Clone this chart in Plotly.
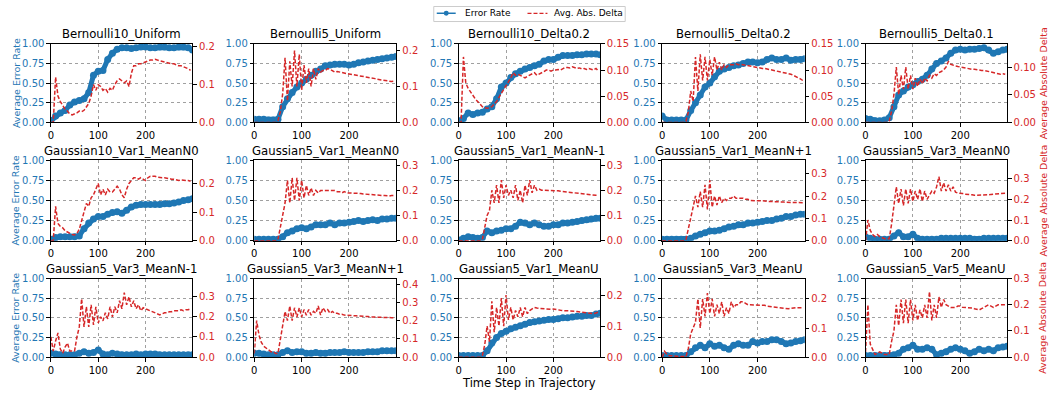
import plotly.graph_objects as go

W, H = 1049, 400
BLUE = "#1f77b4"
RED = "#d62728"

titles = ["Bernoulli10_Uniform", "Bernoulli5_Uniform", "Bernoulli10_Delta0.2", "Bernoulli5_Delta0.2", "Bernoulli5_Delta0.1",
          "Gaussian10_Var1_MeanN0", "Gaussian5_Var1_MeanN0", "Gaussian5_Var1_MeanN-1", "Gaussian5_Var1_MeanN+1", "Gaussian5_Var3_MeanN0",
          "Gaussian5_Var3_MeanN-1", "Gaussian5_Var3_MeanN+1", "Gaussian5_Var1_MeanU", "Gaussian5_Var3_MeanU", "Gaussian5_Var5_MeanU"]
legend_labels = ["Error Rate", "Avg. Abs. Delta"]

x_err = list(range(0, 300, 10)) + [299]
x_delta = list(range(0, 300, 5))
x_ticks = [0, 100, 200]
left_ticks = [0, 0.25, 0.5, 0.75, 1.0]

Z10 = [0.0] * 10

err_b10u = [0.02, 0.08, 0.12, 0.15, 0.22, 0.26, 0.28, 0.3, 0.38, 0.6, 0.65, 0.66, 0.8, 0.88, 0.93, 0.95, 0.95, 0.94, 0.95, 0.96, 0.96, 0.95, 0.95, 0.96, 0.96, 0.95, 0.95, 0.96, 0.96, 0.95, 0.92]
delta_b10u = [0.0, 0.0, 0.12, 0.07, 0.055, 0.045, 0.035, 0.03, 0.022, 0.02, 0.022, 0.025, 0.03, 0.028, 0.032, 0.04, 0.05, 0.07, 0.1, 0.085,
              0.1, 0.095, 0.085, 0.09, 0.08, 0.09, 0.085, 0.1, 0.11, 0.115, 0.11, 0.105, 0.11, 0.095, 0.13, 0.15, 0.15, 0.155, 0.155, 0.158,
              0.16, 0.162, 0.165, 0.165, 0.167, 0.165, 0.163, 0.162, 0.16, 0.158, 0.157, 0.155, 0.155, 0.152, 0.15, 0.15, 0.148, 0.145, 0.142, 0.138]

err_b5u = [0.04, 0.04, 0.04, 0.03, 0.03, 0.04, 0.2, 0.3, 0.38, 0.45, 0.5, 0.55, 0.6, 0.65, 0.68, 0.72, 0.73, 0.74, 0.74, 0.74, 0.73, 0.74, 0.76, 0.77, 0.78, 0.79, 0.8, 0.81, 0.82, 0.83, 0.84]
delta_b5u = Z10 + [0.005, 0.03, 0.08, 0.18, 0.06, 0.17, 0.1, 0.2, 0.1, 0.19, 0.09, 0.16, 0.11, 0.15, 0.1, 0.15, 0.12, 0.15, 0.14, 0.145,
                   0.145, 0.15, 0.148, 0.145, 0.14, 0.142, 0.14, 0.138, 0.137, 0.136, 0.135, 0.134, 0.133, 0.132, 0.13, 0.13, 0.128, 0.127, 0.125, 0.124,
                   0.123, 0.122, 0.12, 0.119, 0.118, 0.117, 0.115, 0.115, 0.114, 0.115]

err_b10d2 = [0.02, 0.05, 0.12, 0.1, 0.12, 0.13, 0.17, 0.2, 0.3, 0.45, 0.5, 0.57, 0.62, 0.65, 0.68, 0.7, 0.72, 0.74, 0.78, 0.8, 0.8, 0.83, 0.85, 0.85, 0.85, 0.86, 0.86, 0.87, 0.87, 0.87, 0.86]
delta_b10d2 = [0.0, 0.0, 0.125, 0.075, 0.065, 0.058, 0.05, 0.045, 0.04, 0.035, 0.03, 0.028, 0.027, 0.028, 0.03, 0.035, 0.04, 0.048, 0.055, 0.062,
               0.07, 0.078, 0.085, 0.095, 0.09, 0.092, 0.09, 0.088, 0.085, 0.088, 0.09, 0.092, 0.095, 0.09, 0.092, 0.095, 0.097, 0.1, 0.1, 0.098,
               0.1, 0.1, 0.101, 0.1, 0.103, 0.105, 0.105, 0.104, 0.106, 0.104, 0.103, 0.104, 0.102, 0.103, 0.101, 0.103, 0.102, 0.1, 0.103, 0.098]

err_b5d2 = [0.08, 0.03, 0.03, 0.03, 0.03, 0.03, 0.15, 0.25, 0.35, 0.45, 0.5, 0.58, 0.65, 0.68, 0.7, 0.72, 0.73, 0.75, 0.77, 0.77, 0.76, 0.77, 0.8, 0.82, 0.8, 0.8, 0.82, 0.79, 0.8, 0.8, 0.81]
delta_b5d2 = Z10 + [0.002, 0.02, 0.06, 0.04, 0.125, 0.06, 0.13, 0.08, 0.125, 0.08, 0.12, 0.09, 0.125, 0.1, 0.115, 0.1, 0.11, 0.105, 0.11, 0.11,
                    0.11, 0.112, 0.11, 0.111, 0.11, 0.109, 0.108, 0.107, 0.106, 0.105, 0.105, 0.104, 0.103, 0.103, 0.102, 0.101, 0.1, 0.1, 0.099, 0.098,
                    0.097, 0.096, 0.095, 0.093, 0.092, 0.09, 0.088, 0.086, 0.083, 0.08]

err_b5d1 = [0.05, 0.04, 0.02, 0.02, 0.03, 0.06, 0.2, 0.35, 0.4, 0.45, 0.48, 0.52, 0.55, 0.6, 0.68, 0.75, 0.78, 0.82, 0.88, 0.92, 0.93, 0.92, 0.93, 0.93, 0.94, 0.95, 0.92, 0.88, 0.9, 0.92, 0.93]
delta_b5d1 = Z10 + [0.002, 0.02, 0.05, 0.1, 0.05, 0.085, 0.06, 0.1, 0.06, 0.085, 0.06, 0.08, 0.065, 0.078, 0.07, 0.08, 0.075, 0.085, 0.08, 0.088,
                    0.085, 0.09, 0.092, 0.095, 0.1, 0.11, 0.105, 0.103, 0.102, 0.101, 0.1, 0.099, 0.098, 0.098, 0.097, 0.096, 0.096, 0.095, 0.095, 0.094,
                    0.094, 0.093, 0.093, 0.092, 0.09, 0.089, 0.088, 0.087, 0.088, 0.087]

err_g10v1n0 = [0.02, 0.04, 0.05, 0.05, 0.05, 0.05, 0.06, 0.15, 0.22, 0.27, 0.3, 0.3, 0.33, 0.35, 0.36, 0.34, 0.38, 0.42, 0.44, 0.45, 0.45, 0.45, 0.45, 0.45, 0.46, 0.46, 0.47, 0.48, 0.5, 0.51, 0.52]
delta_g10v1n0 = [0.0, 0.0, 0.12, 0.06, 0.05, 0.045, 0.035, 0.03, 0.025, 0.022, 0.02, 0.025, 0.04, 0.07, 0.1, 0.13, 0.12, 0.15, 0.16, 0.18,
                 0.2, 0.16, 0.18, 0.16, 0.18, 0.17, 0.17, 0.18, 0.19, 0.18, 0.16, 0.15, 0.18, 0.2, 0.21, 0.22, 0.22, 0.215, 0.22, 0.215,
                 0.21, 0.22, 0.225, 0.225, 0.225, 0.222, 0.22, 0.22, 0.22, 0.218, 0.215, 0.215, 0.215, 0.213, 0.21, 0.212, 0.21, 0.21, 0.21, 0.208]

err_g5v1n0 = [0.02, 0.02, 0.02, 0.02, 0.02, 0.02, 0.05, 0.1, 0.12, 0.15, 0.16, 0.15, 0.17, 0.2, 0.2, 0.2, 0.22, 0.2, 0.22, 0.22, 0.23, 0.24, 0.25, 0.24, 0.25, 0.26, 0.25, 0.27, 0.27, 0.28, 0.28]
delta_g5v1n0 = Z10 + [0.005, 0.05, 0.1, 0.15, 0.24, 0.15, 0.25, 0.16, 0.25, 0.16, 0.24, 0.17, 0.22, 0.18, 0.21, 0.18, 0.2, 0.19, 0.2, 0.2,
                      0.2, 0.2, 0.2, 0.2, 0.2, 0.195, 0.195, 0.19, 0.195, 0.19, 0.19, 0.19, 0.19, 0.19, 0.188, 0.188, 0.186, 0.185, 0.185, 0.184,
                      0.183, 0.183, 0.182, 0.18, 0.18, 0.18, 0.178, 0.178, 0.18, 0.18]

err_g5v1nm1 = [0.01, 0.03, 0.05, 0.04, 0.03, 0.04, 0.12, 0.1, 0.12, 0.13, 0.15, 0.15, 0.18, 0.23, 0.22, 0.2, 0.22, 0.2, 0.18, 0.18, 0.2, 0.2, 0.22, 0.22, 0.23, 0.24, 0.25, 0.26, 0.27, 0.28, 0.28]
delta_g5v1nm1 = Z10 + [0.005, 0.05, 0.1, 0.12, 0.2, 0.15, 0.22, 0.15, 0.24, 0.17, 0.22, 0.18, 0.2, 0.17, 0.22, 0.16, 0.2, 0.15, 0.22, 0.18,
                       0.24, 0.19, 0.22, 0.2, 0.205, 0.2, 0.2, 0.2, 0.2, 0.2, 0.2, 0.198, 0.198, 0.196, 0.195, 0.194, 0.193, 0.192, 0.19, 0.19,
                       0.188, 0.188, 0.185, 0.185, 0.183, 0.182, 0.18, 0.18, 0.18, 0.18]

err_g5v1np1 = [0.02, 0.02, 0.02, 0.02, 0.02, 0.02, 0.03, 0.06, 0.08, 0.1, 0.12, 0.12, 0.13, 0.15, 0.17, 0.18, 0.2, 0.2, 0.22, 0.22, 0.23, 0.24, 0.25, 0.25, 0.27, 0.28, 0.3, 0.3, 0.32, 0.33, 0.33]
delta_g5v1np1 = Z10 + [0.005, 0.05, 0.1, 0.15, 0.2, 0.15, 0.22, 0.15, 0.25, 0.14, 0.27, 0.15, 0.2, 0.16, 0.2, 0.17, 0.19, 0.18, 0.19, 0.19,
                       0.2, 0.19, 0.19, 0.19, 0.19, 0.185, 0.185, 0.18, 0.18, 0.18, 0.18, 0.18, 0.178, 0.178, 0.176, 0.176, 0.175, 0.175, 0.175, 0.174,
                       0.174, 0.173, 0.172, 0.172, 0.172, 0.171, 0.17, 0.17, 0.17, 0.17]

err_g5v3n0 = [0.05, 0.03, 0.02, 0.02, 0.02, 0.02, 0.06, 0.1, 0.05, 0.05, 0.08, 0.03, 0.02, 0.02, 0.02, 0.02, 0.03, 0.03, 0.03, 0.03, 0.03, 0.03, 0.03, 0.02, 0.02, 0.03, 0.03, 0.03, 0.03, 0.03, 0.03]
delta_g5v3n0 = [0.0, 0.1, 0.05, 0.03, 0.02, 0.03, 0.02, 0.015, 0.01, 0.01, 0.01, 0.08, 0.17, 0.26, 0.18, 0.25, 0.17, 0.25, 0.18, 0.25,
                0.19, 0.24, 0.2, 0.25, 0.19, 0.24, 0.2, 0.22, 0.24, 0.23, 0.26, 0.31, 0.24, 0.28, 0.24, 0.27, 0.24, 0.26, 0.235, 0.23,
                0.23, 0.228, 0.225, 0.225, 0.225, 0.222, 0.22, 0.22, 0.22, 0.22, 0.22, 0.22, 0.222, 0.224, 0.225, 0.225, 0.225, 0.228, 0.228, 0.23]

err_g5v3nm1 = [0.05, 0.04, 0.03, 0.03, 0.03, 0.03, 0.05, 0.07, 0.05, 0.06, 0.09, 0.04, 0.03, 0.05, 0.04, 0.03, 0.03, 0.03, 0.04, 0.03, 0.04, 0.04, 0.04, 0.03, 0.03, 0.03, 0.03, 0.03, 0.03, 0.03, 0.03]
delta_g5v3nm1 = [0.1, 0.03, 0.08, 0.12, 0.04, 0.02, 0.05, 0.07, 0.03, 0.03, 0.03, 0.1, 0.15, 0.29, 0.15, 0.25, 0.15, 0.26, 0.16, 0.25,
                 0.17, 0.2, 0.18, 0.22, 0.19, 0.25, 0.2, 0.25, 0.22, 0.28, 0.24, 0.32, 0.26, 0.3, 0.25, 0.28, 0.24, 0.26, 0.23, 0.245,
                 0.24, 0.235, 0.23, 0.225, 0.22, 0.215, 0.21, 0.215, 0.22, 0.22, 0.225, 0.225, 0.23, 0.23, 0.23, 0.235, 0.23, 0.235, 0.235, 0.24]

err_g5v3np1 = [0.05, 0.05, 0.04, 0.03, 0.03, 0.03, 0.06, 0.08, 0.06, 0.07, 0.07, 0.05, 0.05, 0.06, 0.05, 0.05, 0.06, 0.06, 0.06, 0.07, 0.06, 0.06, 0.06, 0.06, 0.07, 0.07, 0.07, 0.08, 0.08, 0.08, 0.08]
delta_g5v3np1 = [0.02, 0.2, 0.12, 0.08, 0.06, 0.05, 0.04, 0.03, 0.03, 0.02, 0.02, 0.1, 0.18, 0.25, 0.2, 0.28, 0.2, 0.27, 0.22, 0.27,
                 0.22, 0.26, 0.23, 0.26, 0.23, 0.25, 0.24, 0.28, 0.23, 0.27, 0.25, 0.26, 0.24, 0.25, 0.24, 0.24, 0.235, 0.235, 0.23, 0.23,
                 0.23, 0.228, 0.228, 0.226, 0.225, 0.225, 0.224, 0.222, 0.222, 0.22, 0.22, 0.22, 0.22, 0.218, 0.218, 0.218, 0.217, 0.217, 0.216, 0.215]

err_g5v1u = [0.02, 0.02, 0.02, 0.02, 0.02, 0.02, 0.08, 0.18, 0.25, 0.3, 0.33, 0.36, 0.38, 0.4, 0.42, 0.44, 0.45, 0.46, 0.47, 0.48, 0.48, 0.49, 0.5, 0.5, 0.51, 0.52, 0.52, 0.53, 0.53, 0.55, 0.56]
delta_g5v1u = Z10 + [0.005, 0.04, 0.1, 0.05, 0.18, 0.08, 0.16, 0.1, 0.19, 0.1, 0.2, 0.12, 0.16, 0.12, 0.15, 0.13, 0.16, 0.13, 0.16, 0.14,
                     0.15, 0.155, 0.16, 0.158, 0.157, 0.156, 0.155, 0.155, 0.155, 0.154, 0.155, 0.153, 0.152, 0.151, 0.15, 0.15, 0.15, 0.149, 0.148, 0.148,
                     0.147, 0.146, 0.145, 0.144, 0.143, 0.142, 0.14, 0.14, 0.142, 0.145]

err_g5v3u = [0.02, 0.02, 0.02, 0.02, 0.02, 0.02, 0.07, 0.12, 0.15, 0.12, 0.17, 0.14, 0.15, 0.12, 0.1, 0.15, 0.17, 0.15, 0.15, 0.2, 0.18, 0.2, 0.2, 0.22, 0.22, 0.2, 0.17, 0.18, 0.2, 0.21, 0.22]
delta_g5v3u = [0.0, 0.02, 0.01, 0.005, 0.005, 0.003, 0.003, 0.002, 0.002, 0.002, 0.002, 0.03, 0.08, 0.1, 0.12, 0.2, 0.1, 0.2, 0.14, 0.22,
               0.15, 0.2, 0.14, 0.18, 0.15, 0.19, 0.14, 0.17, 0.15, 0.19, 0.17, 0.18, 0.18, 0.19, 0.19, 0.185, 0.18, 0.18, 0.18, 0.18,
               0.18, 0.18, 0.18, 0.178, 0.175, 0.174, 0.173, 0.172, 0.17, 0.17, 0.168, 0.167, 0.165, 0.166, 0.168, 0.17, 0.17, 0.17, 0.17, 0.17]

err_g5v5u = [0.02, 0.02, 0.02, 0.02, 0.02, 0.02, 0.03, 0.05, 0.1, 0.12, 0.15, 0.1, 0.1, 0.12, 0.1, 0.03, 0.05, 0.07, 0.1, 0.12, 0.1, 0.08, 0.05, 0.07, 0.1, 0.08, 0.1, 0.08, 0.12, 0.13, 0.14]
delta_g5v5u = [0.02, 0.2, 0.05, 0.03, 0.01, 0.015, 0.02, 0.015, 0.01, 0.01, 0.01, 0.06, 0.1, 0.2, 0.12, 0.22, 0.13, 0.22, 0.13, 0.22,
               0.14, 0.2, 0.14, 0.18, 0.15, 0.2, 0.15, 0.25, 0.14, 0.2, 0.15, 0.23, 0.19, 0.22, 0.2, 0.195, 0.19, 0.19, 0.19, 0.195,
               0.195, 0.19, 0.19, 0.19, 0.19, 0.188, 0.185, 0.183, 0.18, 0.185, 0.19, 0.195, 0.2, 0.195, 0.19, 0.195, 0.2, 0.2, 0.2, 0.2]

err_series = [err_b10u, err_b5u, err_b10d2, err_b5d2, err_b5d1,
              err_g10v1n0, err_g5v1n0, err_g5v1nm1, err_g5v1np1, err_g5v3n0,
              err_g5v3nm1, err_g5v3np1, err_g5v1u, err_g5v3u, err_g5v5u]
delta_series = [delta_b10u, delta_b5u, delta_b10d2, delta_b5d2, delta_b5d1,
                delta_g10v1n0, delta_g5v1n0, delta_g5v1nm1, delta_g5v1np1, delta_g5v3n0,
                delta_g5v3nm1, delta_g5v3np1, delta_g5v1u, delta_g5v3u, delta_g5v5u]

right_max = [0.208, 0.219, 0.15, 0.15, 0.142,
             0.281, 0.32, 0.319, 0.36, 0.389,
             0.39, 0.43, 0.253, 0.27, 0.3]
right_dtick = [0.1, 0.1, 0.05, 0.05, 0.05,
               0.1, 0.1, 0.1, 0.1, 0.1,
               0.1, 0.1, 0.1, 0.1, 0.1]
right_fmt = [".1f", ".1f", ".2f", ".2f", ".2f"] + [".1f"] * 10

col_px = [(48, 190), (252, 394), (457, 599), (661, 804), (865, 1007)]
row_px = [(39, 120), (159, 242), (281, 362)]

FONT = "DejaVu Sans"
GRID = "#a0a0a0"
fig = go.Figure()
layout = dict(
    width=W, height=H, autosize=False,
    margin=dict(l=0, r=0, t=0, b=0),
    paper_bgcolor="white", plot_bgcolor="white",
    font=dict(family=FONT, size=10, color="black"),
    showlegend=False,
)
annotations = []
shapes = []

for k in range(15):
    r, c = divmod(k, 5)
    xl, xr = col_px[c]
    yt, yb = row_px[r]
    xi = k + 1
    yl = 2 * k + 1
    yr = 2 * k + 2
    xname = "x" if xi == 1 else f"x{xi}"
    ylname = "y" if yl == 1 else f"y{yl}"
    yrname = f"y{yr}"

    fig.add_trace(go.Scatter(x=x_err, y=err_series[k], xaxis=xname, yaxis=ylname, name=legend_labels[0],
                             mode="lines+markers", line=dict(color=BLUE, width=5),
                             marker=dict(color=BLUE, size=7), hoverinfo="skip"))
    fig.add_trace(go.Scatter(x=x_delta, y=delta_series[k], xaxis=xname, yaxis=yrname, name=legend_labels[1],
                             mode="lines", line=dict(color=RED, width=1.5, dash="4px,2px"),
                             hoverinfo="skip", connectgaps=False))

    layout[f"xaxis{xi}"] = dict(
        domain=[xl / W, xr / W], anchor=ylname, range=[0, 299],
        tickvals=x_ticks, ticks="outside", ticklen=3.5, tickwidth=1, tickcolor="black",
        tickfont=dict(size=10, color="black"),
        showgrid=True, gridcolor=GRID, griddash="dot", gridwidth=0.8,
        showline=True, linecolor="black", linewidth=1, mirror=True, zeroline=False,
    )
    layout[f"yaxis{yl}"] = dict(
        domain=[1 - yb / H, 1 - yt / H], anchor=xname, range=[0, 1],
        tickvals=left_ticks, tickformat=".2f", ticks="outside", ticklen=3.5, tickcolor="black",
        tickfont=dict(size=10, color=BLUE),
        showgrid=True, gridcolor=GRID, griddash="dot", gridwidth=0.8,
        showline=True, linecolor="black", linewidth=1, mirror=True, zeroline=False,
    )
    layout[f"yaxis{yr}"] = dict(
        overlaying=ylname, side="right", anchor=xname, range=[0, right_max[k]],
        tick0=0, dtick=right_dtick[k], tickformat=right_fmt[k],
        ticks="outside", ticklen=3.5, tickcolor="black",
        tickfont=dict(size=10, color=RED),
        showgrid=False, showline=True, linecolor="black", linewidth=1, zeroline=False,
    )
    annotations.append(dict(text=titles[k], x=(xl + xr) / 2 / W, y=1 - (yt - 10) / H,
                            xref="paper", yref="paper", xanchor="center", yanchor="middle",
                            showarrow=False, font=dict(size=11.7, color="black", family=FONT)))

for r in range(3):
    yt, yb = row_px[r]
    yc = 1 - (yt + yb) / 2 / H
    annotations.append(dict(text="Average Error Rate", x=13 / W, y=yc, xref="paper", yref="paper",
                            xanchor="center", yanchor="middle", textangle=-90, showarrow=False,
                            font=dict(size=9.5, color=BLUE, family=FONT)))
    annotations.append(dict(text="Average Absolute Delta", x=1043 / W, y=yc, xref="paper", yref="paper",
                            xanchor="center", yanchor="middle", textangle=-90, showarrow=False,
                            font=dict(size=9.5, color=RED, family=FONT)))

annotations.append(dict(text="Time Step in Trajectory", x=528 / W, y=1 - 389 / H, xref="paper", yref="paper",
                        xanchor="center", yanchor="middle", showarrow=False,
                        font=dict(size=11.5, color="black", family=FONT)))

# compact legend box (matplotlib-style) at top centre
def px(x):
    return x / W

def py(y):
    return 1 - y / H

shapes.append(dict(type="rect", xref="paper", yref="paper", x0=px(432), x1=px(624), y0=py(16), y1=py(0.5),
                   line=dict(color="#cccccc", width=1), fillcolor="white", layer="above"))
shapes.append(dict(type="line", xref="paper", yref="paper", x0=px(435), x1=px(454), y0=py(7.5), y1=py(7.5),
                   line=dict(color=BLUE, width=1.5), layer="above"))
shapes.append(dict(type="circle", xref="paper", yref="paper", x0=px(442), x1=px(447), y0=py(10), y1=py(5),
                   line=dict(color=BLUE, width=0), fillcolor=BLUE, layer="above"))
shapes.append(dict(type="line", xref="paper", yref="paper", x0=px(526), x1=px(546), y0=py(7.5), y1=py(7.5),
                   line=dict(color=RED, width=1.3, dash="4px,2px"), layer="above"))
annotations.append(dict(text=legend_labels[0], x=px(461), y=py(7.5), xref="paper", yref="paper",
                        xanchor="left", yanchor="middle", showarrow=False,
                        font=dict(size=9, color="black", family=FONT)))
annotations.append(dict(text=legend_labels[1], x=px(551), y=py(7.5), xref="paper", yref="paper",
                        xanchor="left", yanchor="middle", showarrow=False,
                        font=dict(size=9, color="black", family=FONT)))

layout["annotations"] = annotations
layout["shapes"] = shapes
fig.update_layout(**layout)
fig.write_html("out.html")
